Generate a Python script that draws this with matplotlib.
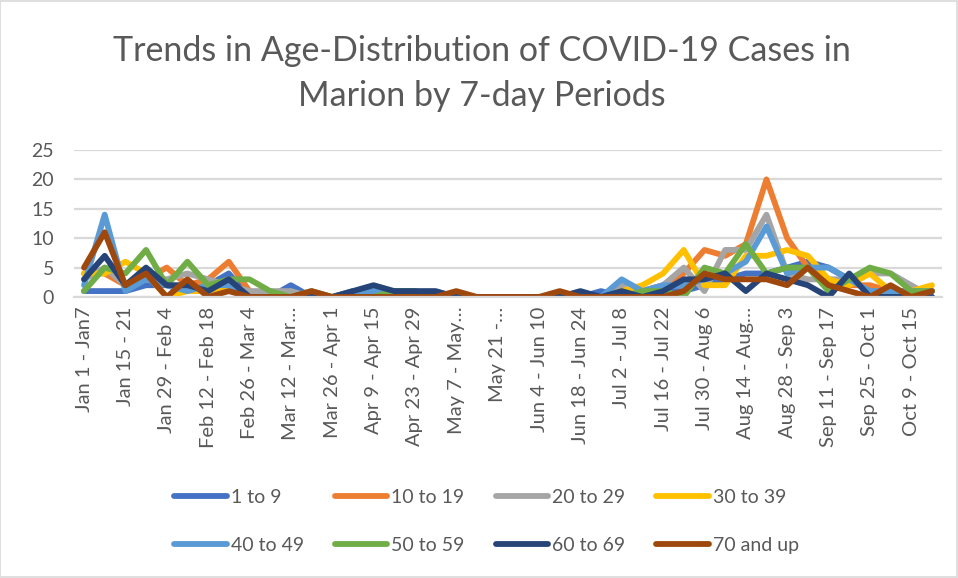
import matplotlib
matplotlib.use("Agg")
import matplotlib.pyplot as plt
from matplotlib.patches import Rectangle

periods = [
    "Jan 1 - Jan7", "Jan 8 - Jan 14", "Jan 15 - 21", "Jan 22 - 28", "Jan 29 - Feb 4",
    "Feb 5 - Feb 11", "Feb 12 - Feb 18", "Feb 19 - Feb 25", "Feb 26 - Mar 4", "Mar 5 - Mar 11",
    "Mar 12 - Mar…", "Mar 19 - Mar 25", "Mar 26 - Apr 1", "Apr 2 - Apr 8", "Apr 9 - Apr 15",
    "Apr 16 - Apr 22", "Apr 23 - Apr 29", "Apr 30 - May 6", "May 7 - May…", "May 14 - May 20",
    "May 21 -…", "May 28 - Jun 3", "Jun 4 - Jun 10", "Jun 11 - Jun 17", "Jun 18 - Jun 24",
    "Jun 25 - Jul 1", "Jul 2 - Jul 8", "Jul 9 - Jul 15", "Jul 16 - Jul 22", "Jul 23 - Jul 29",
    "Jul 30 - Aug 6", "Aug 7 - Aug 13", "Aug 14 - Aug…", "Aug 21 - Aug 27", "Aug 28 - Sep 3",
    "Sep 4 - Sep 10", "Sep 11 - Sep 17", "Sep 18 - Sep 24", "Sep 25 - Oct 1", "Oct 2 - Oct 8",
    "Oct 9 - Oct 15", "Oct 16 - Oct 22",
]

age_1_9 = [1, 1, 1, 2, 2, 1, 2, 4, 0, 0,
           2, 0, 0, 0, 0, 0, 0, 0, 0, 0,
           0, 0, 0, 0, 0, 1, 0, 0, 1, 1,
           2, 3, 4, 4, 5, 6, 5, 3, 1, 0,
           0, 0]
age_10_19 = [4, 4, 2, 3, 5, 2, 3, 6, 1, 0,
             0, 0, 0, 0, 0, 0, 0, 0, 0, 0,
             0, 0, 0, 0, 0, 0, 0, 1, 2, 4,
             8, 7, 9, 20, 10, 5, 3, 2, 2, 1,
             1, 1]
age_20_29 = [3, 5, 2, 3, 3, 4, 3, 2, 1, 1,
             1, 0, 0, 1, 1, 0, 0, 0, 0, 0,
             0, 0, 0, 0, 0, 0, 2, 1, 2, 5,
             1, 8, 8, 14, 4, 3, 3, 3, 4, 4,
             2, 0]
age_30_39 = [4, 4, 6, 4, 0, 1, 1, 2, 0, 0,
             0, 0, 0, 0, 0, 0, 0, 0, 0, 0,
             0, 0, 0, 0, 0, 0, 1, 2, 4, 8,
             2, 2, 7, 7, 8, 7, 3, 2, 4, 1,
             1, 2]
age_40_49 = [2, 14, 1, 3, 2, 1, 2, 2, 0, 0,
             0, 0, 0, 1, 1, 1, 1, 0, 0, 0,
             0, 0, 0, 0, 0, 0, 3, 1, 2, 2,
             3, 4, 6, 12, 4, 5, 5, 3, 1, 1,
             1, 1]
age_50_59 = [1, 5, 4, 8, 2, 6, 2, 3, 3, 1,
             0, 1, 0, 0, 0, 1, 1, 0, 0, 0,
             0, 0, 0, 0, 0, 0, 0, 1, 1, 0,
             5, 4, 9, 4, 5, 5, 1, 3, 5, 4,
             1, 1]
age_60_69 = [3, 7, 2, 5, 2, 2, 1, 3, 0, 0,
             0, 0, 0, 1, 2, 1, 1, 1, 0, 0,
             0, 0, 0, 0, 1, 0, 1, 0, 1, 3,
             3, 4, 1, 4, 3, 2, 0, 4, 0, 0,
             0, 0]
age_70_up = [5, 11, 2, 4, 0, 3, 0, 1, 0, 0,
             0, 1, 0, 0, 0, 0, 0, 0, 1, 0,
             0, 0, 0, 1, 0, 0, 0, 0, 0, 1,
             4, 3, 3, 3, 2, 5, 2, 1, 0, 2,
             0, 1]

series_names = ["1 to 9", "10 to 19", "20 to 29", "30 to 39",
                "40 to 49", "50 to 59", "60 to 69", "70 and up"]
series_values = [age_1_9, age_10_19, age_20_29, age_30_39,
                 age_40_49, age_50_59, age_60_69, age_70_up]
colors = ["#4472C4", "#ED7D31", "#A5A5A5", "#FFC000",
          "#5B9BD5", "#70AD47", "#264478", "#9E480E"]

title = "Trends in Age-Distribution of COVID-19 Cases in\nMarion by 7-day Periods"
y_ticks = [0, 5, 10, 15, 20, 25]

FONT = "Lato"
TXT = "#595959"
plt.rcParams["font.family"] = [FONT, "DejaVu Sans"]

fig = plt.figure(figsize=(9.58, 5.78), dpi=100)
fig.patch.set_facecolor("white")
fig.add_artist(Rectangle((0.0005, 0.001), 0.998, 0.997, transform=fig.transFigure,
                         fill=False, edgecolor="#D9D9D9", linewidth=1.2))

ax = fig.add_axes([0.0769, 0.4862, 0.9067, 0.2543])
x = list(range(len(periods)))
for name, vals, c in zip(series_names, series_values, colors):
    ax.plot(x, vals, color=c, linewidth=4.2, label=name,
            solid_joinstyle="round", solid_capstyle="round")

ax.set_xlim(-0.5, len(periods) - 0.5)
ax.set_ylim(0, 25)
ax.set_yticks(y_ticks)
ax.set_yticklabels([str(v) for v in y_ticks])
ax.grid(axis="y", color="#D9D9D9", linewidth=1.6)
ax.set_axisbelow(True)
for s in ["top", "right", "left"]:
    ax.spines[s].set_visible(False)
ax.spines["bottom"].set_color("#D9D9D9")
ax.spines["bottom"].set_linewidth(1.6)

shown = x[::2]
ax.set_xticks(shown)
ax.set_xticklabels([periods[i] for i in shown], rotation=90, ha="center", va="top")
ax.tick_params(axis="x", length=0, pad=7, labelsize=14.5, labelcolor=TXT)
ax.tick_params(axis="y", length=0, pad=14, labelsize=14, labelcolor=TXT)

fig.text(0.503, 0.872, title, ha="center", va="center", fontsize=24.5,
         color=TXT, linespacing=1.5)

handles, labels = ax.get_legend_handles_labels()
order = [0, 4, 1, 5, 2, 6, 3, 7]
leg = fig.legend([handles[i] for i in order], [labels[i] for i in order],
                 loc="center", bbox_to_anchor=(0.508, 0.0985),
                 ncol=4, frameon=False, fontsize=14, handlelength=2.7,
                 handletextpad=0.2, columnspacing=1.6, labelspacing=1.6)
for t in leg.get_texts():
    t.set_color(TXT)
for h in leg.legend_handles:
    h.set_linewidth(4.2)
    h.set_solid_capstyle("round")

fig.savefig("out.png", dpi=100, facecolor="white")
